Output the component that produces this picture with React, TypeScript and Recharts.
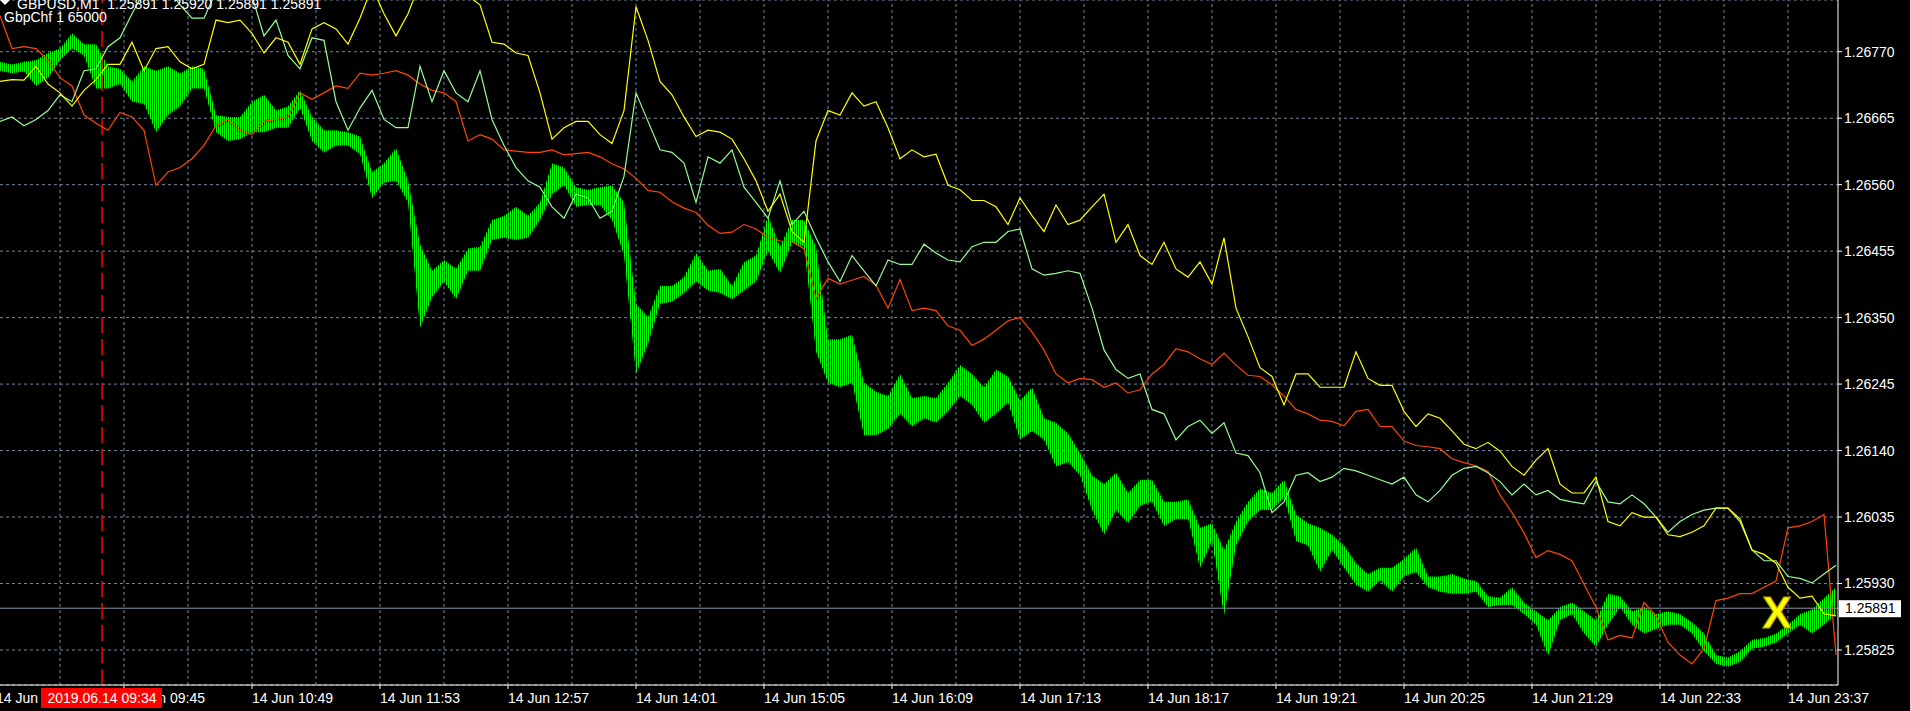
import React from 'react';
import { ComposedChart, Line, Area, XAxis, YAxis, CartesianGrid, ReferenceLine, ReferenceDot } from 'recharts';

const FONT = '"Liberation Sans", Arial, sans-serif';

// one sample every 6 minutes, first sample at 08:43
const STEP_MIN = 6;

const yellow = [
  1.26723, 1.26726, 1.26725, 1.26747, 1.26719, 1.26705, 1.26684, 1.26709, 1.26726, 1.26750,
  1.26750, 1.26785, 1.26740, 1.26775, 1.26778, 1.26754, 1.26743, 1.26750, 1.26820, 1.26816,
  1.26820, 1.26799, 1.26768, 1.26792, 1.26785, 1.26750, 1.26806, 1.26816, 1.26806, 1.26782,
  1.26823, 1.26872, 1.26830, 1.26795, 1.26830, 1.26879, 1.26893, 1.26886, 1.26872, 1.26858,
  1.26844, 1.26785, 1.26782, 1.26768, 1.26764, 1.26705, 1.26632, 1.26650, 1.26660, 1.26660,
  1.26639, 1.26625, 1.26677, 1.26841, 1.26788, 1.26723, 1.26702, 1.26667, 1.26636, 1.26646,
  1.26643, 1.26632, 1.26601, 1.26566, 1.26518, 1.26545, 1.26486, 1.26469, 1.26629, 1.26677,
  1.26670, 1.26705, 1.26684, 1.26691, 1.26650, 1.26601, 1.26615, 1.26604, 1.26608, 1.26559,
  1.26552, 1.26535, 1.26535, 1.26525, 1.26497, 1.26539, 1.26511, 1.26486, 1.26528, 1.26497,
  1.26504, 1.26525, 1.26545, 1.26469, 1.26497, 1.26448, 1.26434, 1.26469, 1.26427, 1.26414,
  1.26438, 1.26403, 1.26476, 1.26365, 1.26320, 1.26271, 1.26257, 1.26212, 1.26261, 1.26261,
  1.26240, 1.26240, 1.26240, 1.26296, 1.26254, 1.26243, 1.26243, 1.26202, 1.26178, 1.26198,
  1.26191, 1.26171, 1.26150, 1.26143, 1.26153, 1.26139, 1.26115, 1.26101, 1.26125, 1.26143,
  1.26087, 1.26073, 1.26073, 1.26098, 1.26028, 1.26021, 1.26042, 1.26035, 1.26035, 1.26007,
  1.26004, 1.26011, 1.26021, 1.26049, 1.26049, 1.26032, 1.25983, 1.25976, 1.25962, 1.25924,
  1.25907, 1.25910, 1.25882, 1.25879,
];

const paleGreen = [
  1.26660, 1.26667, 1.26653, 1.26663, 1.26677, 1.26702, 1.26691, 1.26740, 1.26743, 1.26778,
  1.26792, 1.26830, 1.26865, 1.26872, 1.26872, 1.26844, 1.26823, 1.26823, 1.26865, 1.26879,
  1.26872, 1.26858, 1.26795, 1.26820, 1.26764, 1.26743, 1.26792, 1.26788, 1.26691, 1.26646,
  1.26681, 1.26709, 1.26663, 1.26650, 1.26650, 1.26747, 1.26691, 1.26740, 1.26705, 1.26691,
  1.26740, 1.26663, 1.26622, 1.26587, 1.26566, 1.26556, 1.26525, 1.26507, 1.26545, 1.26539,
  1.26507, 1.26518, 1.26573, 1.26705, 1.26660, 1.26615, 1.26611, 1.26594, 1.26532, 1.26604,
  1.26594, 1.26615, 1.26556, 1.26532, 1.26507, 1.26566, 1.26497, 1.26518, 1.26476, 1.26438,
  1.26407, 1.26448, 1.26424, 1.26400, 1.26441, 1.26434, 1.26434, 1.26466, 1.26452, 1.26441,
  1.26438, 1.26462, 1.26469, 1.26469, 1.26486, 1.26490, 1.26427, 1.26417, 1.26420, 1.26424,
  1.26420, 1.26365, 1.26299, 1.26268, 1.26254, 1.26261, 1.26205, 1.26198, 1.26157, 1.26178,
  1.26188, 1.26167, 1.26184, 1.26136, 1.26132, 1.26105, 1.26042, 1.26059, 1.26101, 1.26105,
  1.26091, 1.26098, 1.26112, 1.26108, 1.26101, 1.26094, 1.26087, 1.26098, 1.26070, 1.26059,
  1.26077, 1.26101, 1.26112, 1.26115, 1.26105, 1.26091, 1.26070, 1.26087, 1.26070, 1.26077,
  1.26063, 1.26059, 1.26056, 1.26091, 1.26059, 1.26056, 1.26070, 1.26056, 1.26035, 1.26011,
  1.26028, 1.26039, 1.26046, 1.26049, 1.26049, 1.26028, 1.25983, 1.25966, 1.25966, 1.25941,
  1.25938, 1.25931, 1.25945, 1.25959,
];

const orangeRed = [
  1.26827, 1.26775, 1.26778, 1.26775, 1.26757, 1.26729, 1.26716, 1.26670, 1.26657, 1.26646,
  1.26674, 1.26667, 1.26646, 1.26559, 1.26580, 1.26587, 1.26601, 1.26622, 1.26653, 1.26663,
  1.26646, 1.26639, 1.26660, 1.26663, 1.26667, 1.26705, 1.26695, 1.26705, 1.26716, 1.26712,
  1.26736, 1.26733, 1.26736, 1.26740, 1.26733, 1.26719, 1.26709, 1.26705, 1.26691, 1.26629,
  1.26639, 1.26632, 1.26615, 1.26613, 1.26611, 1.26611, 1.26615, 1.26607, 1.26609, 1.26611,
  1.26604, 1.26593, 1.26585, 1.26570, 1.26551, 1.26548, 1.26533, 1.26523, 1.26516, 1.26496,
  1.26483, 1.26485, 1.26497, 1.26490, 1.26477, 1.26471, 1.26470, 1.26459, 1.26380, 1.26412,
  1.26403, 1.26409, 1.26415, 1.26401, 1.26365, 1.26410, 1.26361, 1.26365, 1.26361, 1.26337,
  1.26330, 1.26306, 1.26316, 1.26330, 1.26345, 1.26350, 1.26327, 1.26299, 1.26261, 1.26247,
  1.26254, 1.26252, 1.26240, 1.26247, 1.26231, 1.26236, 1.26261, 1.26276, 1.26301, 1.26296,
  1.26285, 1.26276, 1.26294, 1.26275, 1.26259, 1.26257, 1.26244, 1.26226, 1.26205, 1.26198,
  1.26188, 1.26186, 1.26179, 1.26202, 1.26205, 1.26178, 1.26178, 1.26155, 1.26148, 1.26146,
  1.26143, 1.26127, 1.26121, 1.26116, 1.26107, 1.26070, 1.26042, 1.26010, 1.25971, 1.25982,
  1.25976, 1.25966, 1.25929, 1.25893, 1.25841, 1.25848, 1.25844, 1.25900, 1.25879, 1.25837,
  1.25817, 1.25803, 1.25827, 1.25903, 1.25907, 1.25914, 1.25914, 1.25924, 1.25934, 1.26018,
  1.26021, 1.26028, 1.26039, 1.25817,
];

// GBPUSD M1 bars: high / low per sample
const barHigh = [
  1.26754, 1.26750, 1.26754, 1.26757, 1.26768, 1.26775, 1.26799, 1.26782, 1.26782, 1.26747,
  1.26743, 1.26723, 1.26747, 1.26740, 1.26747, 1.26736, 1.26747, 1.26743, 1.26670, 1.26667,
  1.26667, 1.26691, 1.26702, 1.26677, 1.26684, 1.26709, 1.26667, 1.26646, 1.26646, 1.26643,
  1.26636, 1.26580, 1.26594, 1.26618, 1.26566, 1.26466, 1.26424, 1.26441, 1.26427, 1.26459,
  1.26462, 1.26504, 1.26511, 1.26525, 1.26511, 1.26532, 1.26594, 1.26587, 1.26556, 1.26552,
  1.26556, 1.26559, 1.26532, 1.26372, 1.26351, 1.26400, 1.26400, 1.26414, 1.26452, 1.26424,
  1.26427, 1.26400, 1.26438, 1.26448, 1.26511, 1.26462, 1.26504, 1.26504, 1.26462, 1.26316,
  1.26316, 1.26323, 1.26247, 1.26233, 1.26226, 1.26261, 1.26223, 1.26226, 1.26223, 1.26247,
  1.26275, 1.26261, 1.26240, 1.26268, 1.26257, 1.26219, 1.26240, 1.26191, 1.26184, 1.26167,
  1.26136, 1.26101, 1.26087, 1.26105, 1.26073, 1.26094, 1.26094, 1.26059, 1.26059, 1.26063,
  1.26018, 1.26025, 1.25983, 1.26028, 1.26059, 1.26080, 1.26073, 1.26094, 1.26039, 1.26025,
  1.26018, 1.26007, 1.25990, 1.25962, 1.25945, 1.25955, 1.25955, 1.25969, 1.25987, 1.25941,
  1.25941, 1.25945, 1.25938, 1.25934, 1.25910, 1.25908, 1.25924, 1.25900, 1.25886, 1.25872,
  1.25893, 1.25900, 1.25886, 1.25872, 1.25914, 1.25910, 1.25886, 1.25893, 1.25882, 1.25886,
  1.25882, 1.25869, 1.25851, 1.25817, 1.25813, 1.25823, 1.25841, 1.25844, 1.25851, 1.25865,
  1.25882, 1.25889, 1.25907, 1.25924,
];

const barLow = [
  1.26740, 1.26736, 1.26739, 1.26716, 1.26729, 1.26757, 1.26775, 1.26764, 1.26712, 1.26712,
  1.26719, 1.26691, 1.26688, 1.26643, 1.26670, 1.26684, 1.26712, 1.26712, 1.26643, 1.26629,
  1.26632, 1.26643, 1.26643, 1.26650, 1.26650, 1.26681, 1.26629, 1.26611, 1.26622, 1.26622,
  1.26608, 1.26539, 1.26563, 1.26566, 1.26532, 1.26334, 1.26382, 1.26407, 1.26379, 1.26424,
  1.26424, 1.26473, 1.26476, 1.26473, 1.26476, 1.26504, 1.26545, 1.26559, 1.26525, 1.26528,
  1.26528, 1.26504, 1.26448, 1.26261, 1.26309, 1.26372, 1.26375, 1.26389, 1.26407, 1.26393,
  1.26389, 1.26379, 1.26393, 1.26407, 1.26455, 1.26420, 1.26469, 1.26462, 1.26296, 1.26247,
  1.26240, 1.26247, 1.26164, 1.26164, 1.26174, 1.26198, 1.26178, 1.26191, 1.26184, 1.26202,
  1.26226, 1.26212, 1.26184, 1.26198, 1.26216, 1.26157, 1.26171, 1.26157, 1.26115, 1.26122,
  1.26101, 1.26046, 1.26007, 1.26046, 1.26025, 1.26053, 1.26059, 1.26021, 1.26032, 1.26032,
  1.25955, 1.25997, 1.25879, 1.25990, 1.26028, 1.26046, 1.26046, 1.26066, 1.25997, 1.25990,
  1.25948, 1.25983, 1.25955, 1.25928, 1.25917, 1.25935, 1.25917, 1.25941, 1.25948, 1.25924,
  1.25917, 1.25914, 1.25914, 1.25917, 1.25893, 1.25896, 1.25896, 1.25882, 1.25865, 1.25816,
  1.25872, 1.25882, 1.25851, 1.25830, 1.25865, 1.25893, 1.25865, 1.25851, 1.25858, 1.25865,
  1.25865, 1.25851, 1.25823, 1.25803, 1.25799, 1.25806, 1.25827, 1.25830, 1.25837, 1.25851,
  1.25865, 1.25851, 1.25865, 1.25882,
];

const priceTicks = [1.25825, 1.2593, 1.26035, 1.2614, 1.26245, 1.2635, 1.26455, 1.2656, 1.26665, 1.2677];

// minutes after 08:43
const tickMinutes = [-2, 62, 126, 190, 254, 318, 382, 446, 510, 574, 638, 702, 766, 830, 894];
const tickLabels = [
  '14 Jun 08:41', '14 Jun 09:45', '14 Jun 10:49', '14 Jun 11:53', '14 Jun 12:57',
  '14 Jun 14:01', '14 Jun 15:05', '14 Jun 16:09', '14 Jun 17:13', '14 Jun 18:17',
  '14 Jun 19:21', '14 Jun 20:25', '14 Jun 21:29', '14 Jun 22:33', '14 Jun 23:37',
];
const gridMinutes = [
  30, 62, 94, 126, 158, 190, 222, 254, 286, 318, 350, 382, 414, 446,
  478, 510, 542, 574, 606, 638, 670, 702, 734, 766, 798, 830, 862, 894,
];

const CURRENT_PRICE = 1.25891;
const MARK_MIN = 51; // 09:34
const MARK_LABEL = '2019.06.14 09:34';
const X_MARK = { t: 888.5, price: 1.25884 };

const W = 1910;
const H = 711;
const Y_AXIS_W = 72;
const X_AXIS_H = 26;
const X_DOMAIN: [number, number] = [0, 919];
const PLOT_W = W - Y_AXIS_W;
const PLOT_H = H - X_AXIS_H;
const markX = ((MARK_MIN - X_DOMAIN[0]) / (X_DOMAIN[1] - X_DOMAIN[0])) * PLOT_W;

const data = yellow.map((v, i) => ({
  t: i * STEP_MIN,
  yellow: v,
  pale: paleGreen[i],
  orange: orangeRed[i],
  bar: [barLow[i], barHigh[i]],
}));

const XTick = (p: any) => {
  const i = tickMinutes.indexOf(p.payload.value);
  return (
    <text x={p.x} y={p.y + 12} fill="#fff" fontSize={14} fontFamily={FONT} textAnchor="start">
      {tickLabels[i]}
    </text>
  );
};

const PriceTag = (props: any) => {
  const vb = props.viewBox;
  if (!vb) return null;
  const x = vb.x + vb.width + 1;
  return (
    <g>
      <rect x={x} y={vb.y - 8} width={62} height={17} fill="#fff" />
      <text x={x + 6} y={vb.y + 5} fill="#000" fontSize={14} fontFamily={FONT}>
        {CURRENT_PRICE.toFixed(5)}
      </text>
    </g>
  );
};

const XMark = (props: any) => {
  const vb = props.viewBox;
  if (!vb) return null;
  const cx = vb.x + vb.width / 2;
  const cy = vb.y + vb.height / 2;
  return (
    <text x={cx} y={cy + 15} fill="#ffff00" stroke="#b0a000" strokeWidth={1} fontSize={44}
      fontWeight="bold" fontFamily={FONT} textAnchor="middle">
      X
    </text>
  );
};

export default function App() {
  return (
    <div style={{ position: 'fixed', left: 0, top: 0, width: W, height: H, background: '#000', overflow: 'hidden' }}>
      <ComposedChart width={W} height={H} data={data} margin={{ top: 0, right: 0, bottom: 0, left: 0 }}>
        <defs>
          <pattern id="barStripes" x="0" y="0" width="2" height="2" patternUnits="userSpaceOnUse">
            <rect x="0" y="0" width="1" height="2" fill="#00ff00" shapeRendering="crispEdges" />
          </pattern>
        </defs>
        <CartesianGrid vertical={false} stroke="#778899" strokeDasharray="3 3" />
        {gridMinutes.map((m) => (
          <ReferenceLine key={m} x={m} stroke="#778899" strokeDasharray="3 3" />
        ))}
        <XAxis
          dataKey="t"
          type="number"
          domain={X_DOMAIN}
          allowDataOverflow
          ticks={tickMinutes}
          interval={0}
          height={X_AXIS_H}
          stroke="#fff"
          tickSize={4}
          tick={XTick}
        />
        <YAxis
          orientation="right"
          domain={[1.257697, 1.268517]}
          allowDataOverflow
          ticks={priceTicks}
          interval={0}
          width={Y_AXIS_W}
          stroke="#fff"
          tickSize={4}
          tickMargin={2}
          tick={{ fill: '#fff', fontSize: 14, fontFamily: FONT }}
          tickFormatter={(v: number) => v.toFixed(5)}
        />
        <Area
          dataKey="bar"
          type="linear"
          stroke="none"
          fill="url(#barStripes)"
          fillOpacity={1}
          isAnimationActive={false}
          dot={false}
          activeDot={false}
        />
        <ReferenceLine y={CURRENT_PRICE} stroke="#8796a8" label={<PriceTag />} />
        <ReferenceLine x={MARK_MIN} stroke="#ff0000" strokeWidth={1.5} strokeDasharray="16 6" />
        <Line dataKey="orange" type="linear" stroke="#ff4500" strokeWidth={1.2} dot={false} activeDot={false} isAnimationActive={false} />
        <Line dataKey="pale" type="linear" stroke="#98fb98" strokeWidth={1.2} dot={false} activeDot={false} isAnimationActive={false} />
        <Line dataKey="yellow" type="linear" stroke="#ffff00" strokeWidth={1.2} dot={false} activeDot={false} isAnimationActive={false} />
        <ReferenceDot x={X_MARK.t} y={X_MARK.price} r={1} fill="none" stroke="none" label={<XMark />} />
      </ComposedChart>
      <svg width={W} height={H} style={{ position: 'absolute', left: 0, top: 0, pointerEvents: 'none' }}>
        <polygon points="0,0 10,0 5,5" fill="#fff" />
        <text x={17} y={9} fill="#fff" fontSize={14} fontFamily={FONT} style={{ whiteSpace: 'pre' }}>
          {'GBPUSD,M1  1.25891 1.25920 1.25891 1.25891'}
        </text>
        <text x={4} y={22} fill="#fff" fontSize={14} fontFamily={FONT}>
          GbpChf 1 65000
        </text>
        <rect x={markX - 61} y={PLOT_H + 3} width={121} height={20} fill="#ff0000" />
        <text x={markX} y={PLOT_H + 18} fill="#fff" fontSize={14} fontFamily={FONT} textAnchor="middle">
          {MARK_LABEL}
        </text>
      </svg>
    </div>
  );
}
